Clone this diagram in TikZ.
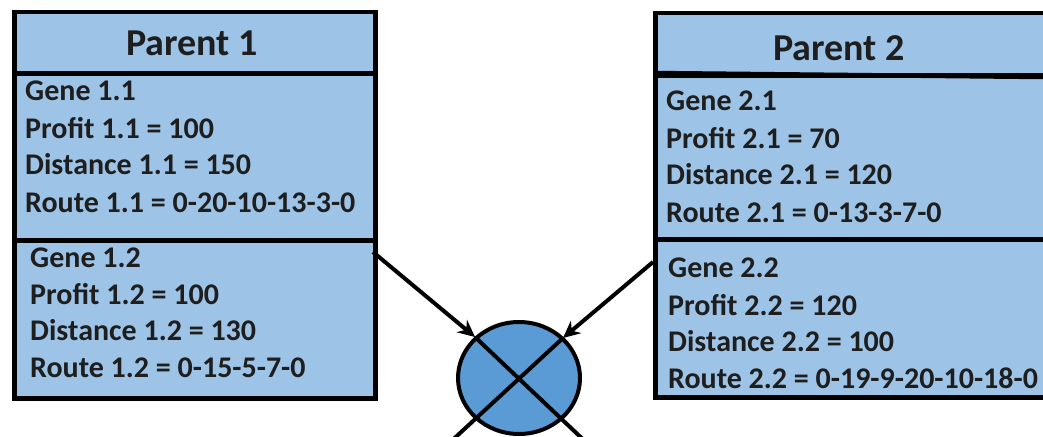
\documentclass[tikz,border=0pt]{standalone}
\usepackage{fontspec}
\setmainfont{Carlito}
\usetikzlibrary{arrows.meta,shapes.geometric}
\definecolor{boxfill}{HTML}{9DC3E6}
\definecolor{xfill}{HTML}{5B9BD5}
\definecolor{txtcol}{HTML}{1E1E1E}
\tikzset{
  sect/.style={draw=black, line width=4.5pt, fill=boxfill, rectangle, inner sep=0pt, anchor=north west},
  headtxt/.style={inner sep=0pt, anchor=base, text=txtcol, font=\fontsize{38}{44}\selectfont\bfseries},
  bodytxt/.style={inner sep=0pt, anchor=base west, text=txtcol, font=\fontsize{30}{37}\selectfont\bfseries},
  conn/.style={line width=4pt, -{Stealth[length=17pt,width=16pt]}},
  xline/.style={line width=4pt, line cap=butt}
}
\begin{document}
\begin{tikzpicture}[x=1pt,y=-1pt]
\useasboundingbox (0,0) rectangle (1043,436);
\clip (0,0) rectangle (1043,436);
\fill[white] (0,0) rectangle (1043,436);
% Parent 1
\node[sect, minimum width=361pt, minimum height=61pt] (p1h) at (12,10) {};
\node[sect, minimum width=361pt, minimum height=167pt] (p1g1) at (12,71) {};
\node[sect, minimum width=361pt, minimum height=158pt] (p1g2) at (12,238) {};
\node[headtxt] (p1t) at (192,56) {Parent 1};
\node[bodytxt] (g11a) at (25,100) {Gene 1.1};
\node[bodytxt] (g11b) at (25,138) {Profit 1.1 = 100};
\node[bodytxt] (g11c) at (25,174) {Distance 1.1 = 150};
\node[bodytxt] (g11d) at (25,212) {Route 1.1 = 0-20-10-13-3-0};
\node[bodytxt] (g12a) at (30,267) {Gene 1.2};
\node[bodytxt] (g12b) at (30,304) {Profit 1.2 = 100};
\node[bodytxt] (g12c) at (30,340) {Distance 1.2 = 130};
\node[bodytxt] (g12d) at (30,377) {Route 1.2 = 0-15-5-7-0};
% Parent 2
\node[sect, minimum width=420pt, minimum height=62pt] (p2h) at (653,11) {};
\node[sect, minimum width=420pt, minimum height=164pt] (p2g1) at (653,73) {};
\node[sect, minimum width=420pt, minimum height=158pt] (p2g2) at (653,237) {};
\draw[line width=4.5pt] (p2g1.north west) -- (1043,77);
\node[headtxt] (p2t) at (839,60) {Parent 2};
\node[bodytxt] (g21a) at (666,110) {Gene 2.1};
\node[bodytxt] (g21b) at (666,148) {Profit 2.1 = 70};
\node[bodytxt] (g21c) at (666,184) {Distance 2.1 = 120};
\node[bodytxt] (g21d) at (666,222) {Route 2.1 = 0-13-3-7-0};
\node[bodytxt] (g22a) at (668,277) {Gene 2.2};
\node[bodytxt] (g22b) at (668,315) {Profit 2.2 = 120};
\node[bodytxt] (g22c) at (668,351) {Distance 2.2 = 100};
\node[bodytxt] (g22d) at (668,388) {Route 2.2 = 0-19-9-20-10-18-0};
% crossover operator
\node[draw=black, line width=4pt, fill=xfill, ellipse, minimum width=122pt, minimum height=112pt, inner sep=0pt] (cx) at (519,378) {};
\coordinate (xa) at (475,337);
\coordinate (xb) at (563,338);
\coordinate (xc) at (590,446);
\coordinate (xd) at (446,446);
\draw[xline] (xa) -- (xc);
\draw[xline] (xb) -- (xd);
\draw[conn] (373,252) coordinate (s1) -- (xa);
\draw[conn] (653,262) coordinate (s2) -- (xb);
\end{tikzpicture}
\end{document}
